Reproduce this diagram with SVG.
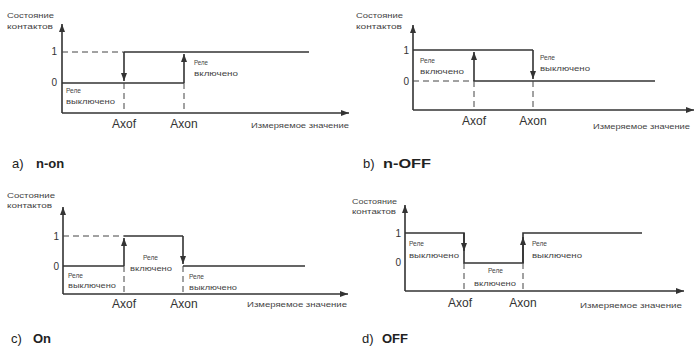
<svg xmlns="http://www.w3.org/2000/svg" width="698" height="352" viewBox="0 0 698 352">
<defs>
<marker id="ah" viewBox="0 0 8 6" markerWidth="8" markerHeight="6" refX="8" refY="3" orient="auto" markerUnits="userSpaceOnUse">
<path d="M0,0 L8,3 L0,6 z" fill="#333"/>
</marker>
<style>
.ax{stroke:#333;stroke-width:1.5;fill:none}
.ln{stroke:#333;stroke-width:1.6;fill:none}
.ds{stroke:#444;stroke-width:1;fill:none;stroke-dasharray:6 4}
.ar{stroke:#333;stroke-width:1.6;fill:none;marker-end:url(#ah)}
.s{font-family:"Liberation Sans",Arial,sans-serif;font-size:8px;fill:#444}
.m{font-family:"Liberation Sans",Arial,sans-serif;font-size:10px;fill:#333;text-anchor:end}
.a{font-family:"Liberation Sans",Arial,sans-serif;font-size:12px;fill:#333;text-anchor:middle}
.t{font-family:"Liberation Sans",Arial,sans-serif;font-size:13px;fill:#222}
.b{font-weight:bold}
</style>
</defs>
<rect width="698" height="352" fill="#fff"/>

<g id="panel-a">
<text class="s" x="7" y="18" textLength="47" lengthAdjust="spacingAndGlyphs">Состояние</text>
<text class="s" x="7" y="29" textLength="46" lengthAdjust="spacingAndGlyphs">контактов</text>
<path class="ar" d="M62,113 L62,24"/>
<path class="ar" d="M62,113 L349,113"/>
<text class="m" x="57" y="55">1</text>
<text class="m" x="57" y="86">0</text>
<path class="ds" d="M62,52 L124,52"/>
<path class="ln" d="M124,52 L309,52"/>
<path class="ln" d="M62,83 L184,83"/>
<path class="ar" d="M124,52 L124,81"/>
<path class="ar" d="M184,83 L184,54"/>
<path class="ds" d="M124,83 L124,113 M184,83 L184,113"/>
<text class="s" x="66" y="93" textLength="15" lengthAdjust="spacingAndGlyphs">Реле</text>
<text class="s" x="66" y="104" textLength="49" lengthAdjust="spacingAndGlyphs">выключено</text>
<text class="s" x="194" y="65" textLength="14" lengthAdjust="spacingAndGlyphs">Реле</text>
<text class="s" x="194" y="76" textLength="44" lengthAdjust="spacingAndGlyphs">включено</text>
<text class="a" x="124" y="128">Axof</text>
<text class="a" x="184" y="128">Axon</text>
<text class="s" x="251" y="128" textLength="98" lengthAdjust="spacingAndGlyphs">Измеряемое значение</text>
<text class="t" x="12" y="168">a)</text>
<text class="t b" x="36" y="168">n-on</text>
</g>

<g id="panel-b">
<text class="s" x="356" y="18" textLength="47" lengthAdjust="spacingAndGlyphs">Состояние</text>
<text class="s" x="356" y="29" textLength="46" lengthAdjust="spacingAndGlyphs">контактов</text>
<path class="ar" d="M413,110 L413,25"/>
<path class="ar" d="M413,110 L694,110"/>
<text class="m" x="409" y="54">1</text>
<text class="m" x="409" y="85">0</text>
<path class="ln" d="M413,50 L533,50"/>
<path class="ds" d="M413,81 L474,81"/>
<path class="ln" d="M474,81 L655,81"/>
<path class="ar" d="M474,81 L474,52"/>
<path class="ar" d="M533,50 L533,79"/>
<path class="ds" d="M474,81 L474,110 M533,81 L533,110"/>
<text class="s" x="420" y="63" textLength="15" lengthAdjust="spacingAndGlyphs">Реле</text>
<text class="s" x="420" y="74" textLength="44" lengthAdjust="spacingAndGlyphs">включено</text>
<text class="s" x="540" y="60" textLength="15" lengthAdjust="spacingAndGlyphs">Реле</text>
<text class="s" x="540" y="71" textLength="50" lengthAdjust="spacingAndGlyphs">выключено</text>
<text class="a" x="474" y="125">Axof</text>
<text class="a" x="533" y="125">Axon</text>
<text class="s" x="593" y="129" textLength="97" lengthAdjust="spacingAndGlyphs">Измеряемое значение</text>
<text class="t" x="363" y="168">b)</text>
<text class="t b" x="383" y="168" textLength="48" lengthAdjust="spacingAndGlyphs">n-OFF</text>
</g>

<g id="panel-c">
<text class="s" x="7" y="198" textLength="48" lengthAdjust="spacingAndGlyphs">Состояние</text>
<text class="s" x="7" y="208" textLength="45" lengthAdjust="spacingAndGlyphs">контактов</text>
<path class="ar" d="M63,294 L63,207"/>
<path class="ar" d="M63,294 L348,294"/>
<text class="m" x="59" y="240">1</text>
<text class="m" x="59" y="270">0</text>
<path class="ds" d="M63,236 L124,236"/>
<path class="ln" d="M124,236 L183,236"/>
<path class="ln" d="M63,266 L124,266 M183,266 L305,266"/>
<path class="ar" d="M124,266 L124,238"/>
<path class="ar" d="M183,236 L183,264"/>
<path class="ds" d="M124,266 L124,294 M183,266 L183,294"/>
<text class="s" x="68" y="278" textLength="15" lengthAdjust="spacingAndGlyphs">Реле</text>
<text class="s" x="68" y="288" textLength="48" lengthAdjust="spacingAndGlyphs">выключено</text>
<text class="s" x="143" y="260" textLength="15" lengthAdjust="spacingAndGlyphs">Реле</text>
<text class="s" x="130" y="271" textLength="42" lengthAdjust="spacingAndGlyphs">включено</text>
<text class="s" x="189" y="279" textLength="15" lengthAdjust="spacingAndGlyphs">Реле</text>
<text class="s" x="189" y="290" textLength="48" lengthAdjust="spacingAndGlyphs">выключено</text>
<text class="a" x="124" y="308">Axof</text>
<text class="a" x="184" y="308">Axon</text>
<text class="s" x="247" y="307" textLength="100" lengthAdjust="spacingAndGlyphs">Измеряемое значение</text>
<text class="t" x="11" y="343">c)</text>
<text class="t b" x="33" y="343">On</text>
</g>

<g id="panel-d">
<text class="s" x="352" y="204" textLength="45" lengthAdjust="spacingAndGlyphs">Состояние</text>
<text class="s" x="352" y="214" textLength="44" lengthAdjust="spacingAndGlyphs">контактов</text>
<path class="ar" d="M405,291 L405,205"/>
<path class="ar" d="M405,291 L684,291"/>
<text class="m" x="401" y="237">1</text>
<text class="m" x="401" y="266">0</text>
<path class="ln" d="M405,233 L464,233 L464,263 L523,263 L523,233 L642,233"/>
<path class="ar" d="M464,233 L464,251"/>
<path class="ar" d="M523,263 L523,237"/>
<path class="ds" d="M464,263 L464,291 M523,263 L523,291"/>
<text class="s" x="409" y="246" textLength="15" lengthAdjust="spacingAndGlyphs">Реле</text>
<text class="s" x="409" y="258" textLength="50" lengthAdjust="spacingAndGlyphs">выключено</text>
<text class="s" x="488" y="273" textLength="15" lengthAdjust="spacingAndGlyphs">Реле</text>
<text class="s" x="474" y="286" textLength="42" lengthAdjust="spacingAndGlyphs">включено</text>
<text class="s" x="532" y="246" textLength="15" lengthAdjust="spacingAndGlyphs">Реле</text>
<text class="s" x="532" y="258" textLength="50" lengthAdjust="spacingAndGlyphs">выключено</text>
<text class="a" x="460" y="307">Axof</text>
<text class="a" x="523" y="307">Axon</text>
<text class="s" x="580" y="308" textLength="102" lengthAdjust="spacingAndGlyphs">Измеряемое значение</text>
<text class="t" x="362" y="343">d)</text>
<text class="t b" x="382" y="343">OFF</text>
</g>
</svg>
